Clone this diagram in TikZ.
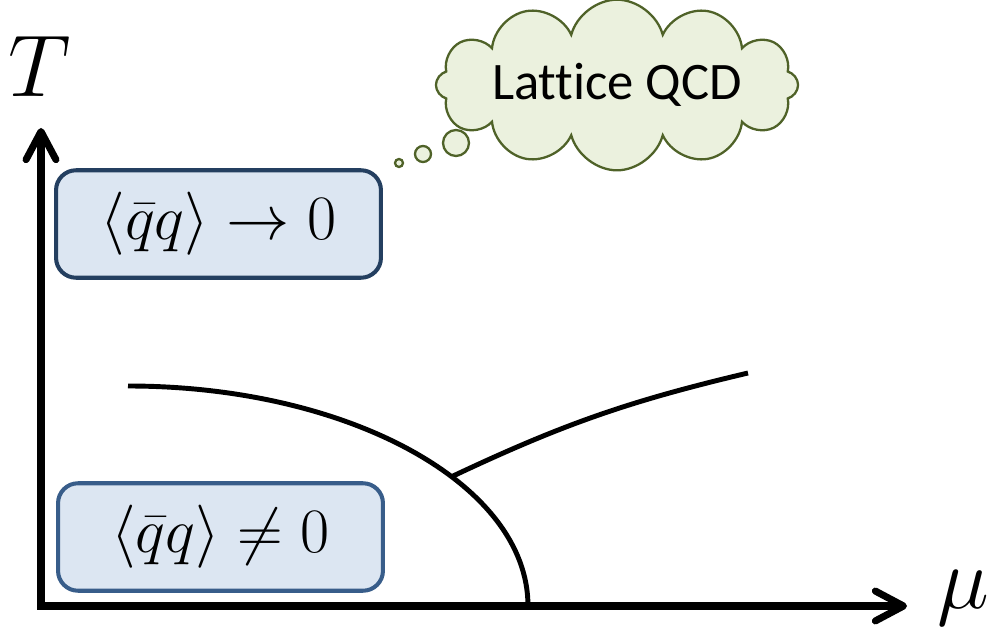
\documentclass[tikz,border=0pt]{standalone}
\usepackage{fix-cm}
\usepackage{amsmath}
\usepackage{fontspec}
\newfontfamily\cloudfont[Ligatures=NoCommon]{Carlito}
\usetikzlibrary{arrows.meta,shapes.symbols}
\definecolor{boxfill}{HTML}{DCE6F2}
\definecolor{hotedge}{HTML}{243F60}
\definecolor{coldedge}{HTML}{385D8A}
\definecolor{cloudfill}{HTML}{EBF1DE}
\definecolor{cloudedge}{HTML}{4F6228}
\tikzset{
  axis/.style={line width=4pt, line join=miter,
    {Straight Barb[length=16pt,width=17pt,round]}-{Straight Barb[length=16pt,width=17pt,round]}},
  phaseline/.style={line width=2.8pt},
  phasebox/.style={line width=2.3pt, fill=boxfill, rounded corners=0.4cm,
    minimum width=6.5cm, minimum height=2.15cm, font=\fontsize{36}{40}\selectfont},
  bubble/.style={circle, draw=cloudedge, fill=cloudfill, line width=1.3pt, inner sep=0pt},
  axislabel/.style={font=\fontsize{50}{60}\selectfont}
}

\begin{document}
\begin{tikzpicture}[x=0.02cm,y=0.02cm]
  \useasboundingbox (0,0) rectangle (991,633);
  \coordinate (O) at (41,27);
  \coordinate (Ttip) at (41,505);
  \coordinate (mutip) at (907,27);
  \draw[axis] (Ttip) -- (O) -- (mutip);
  \node[axislabel] (Tlab) at (40,567) {$T$};
  \node[axislabel] (mulab) at (963,35) {$\mu$};

  \coordinate (ctr) at (128,27);
  \coordinate (crest) at (128,247);
  \path (ctr) ++(36:400 and 220) coordinate (triple);
  \coordinate (tail) at (748,260);
  \draw[phaseline] (crest) arc[start angle=90, end angle=0, x radius=400, y radius=220];
  \draw[phaseline] (triple) to[bend left=6] (tail);

  \node[phasebox, draw=hotedge] (sym) at (218.5,409) {$\langle\bar{q}q\rangle\to0$};
  \node[phasebox, draw=coldedge] (broken) at (220.5,96) {$\langle\bar{q}q\rangle\neq0$};

  \node[cloud, cloud puffs=12, aspect=3.4, inner sep=0pt, draw=cloudedge, fill=cloudfill,
    line width=1.3pt, font=\cloudfont\fontsize{30}{32}\selectfont]
    (lattice) at (617,548) {Lattice QCD};
  \node[bubble, minimum size=0.52cm] (b1) at (456,490) {};
  \node[bubble, minimum size=0.32cm] (b2) at (423,479) {};
  \node[bubble, minimum size=0.16cm] (b3) at (399,470) {};
\end{tikzpicture}
\end{document}
